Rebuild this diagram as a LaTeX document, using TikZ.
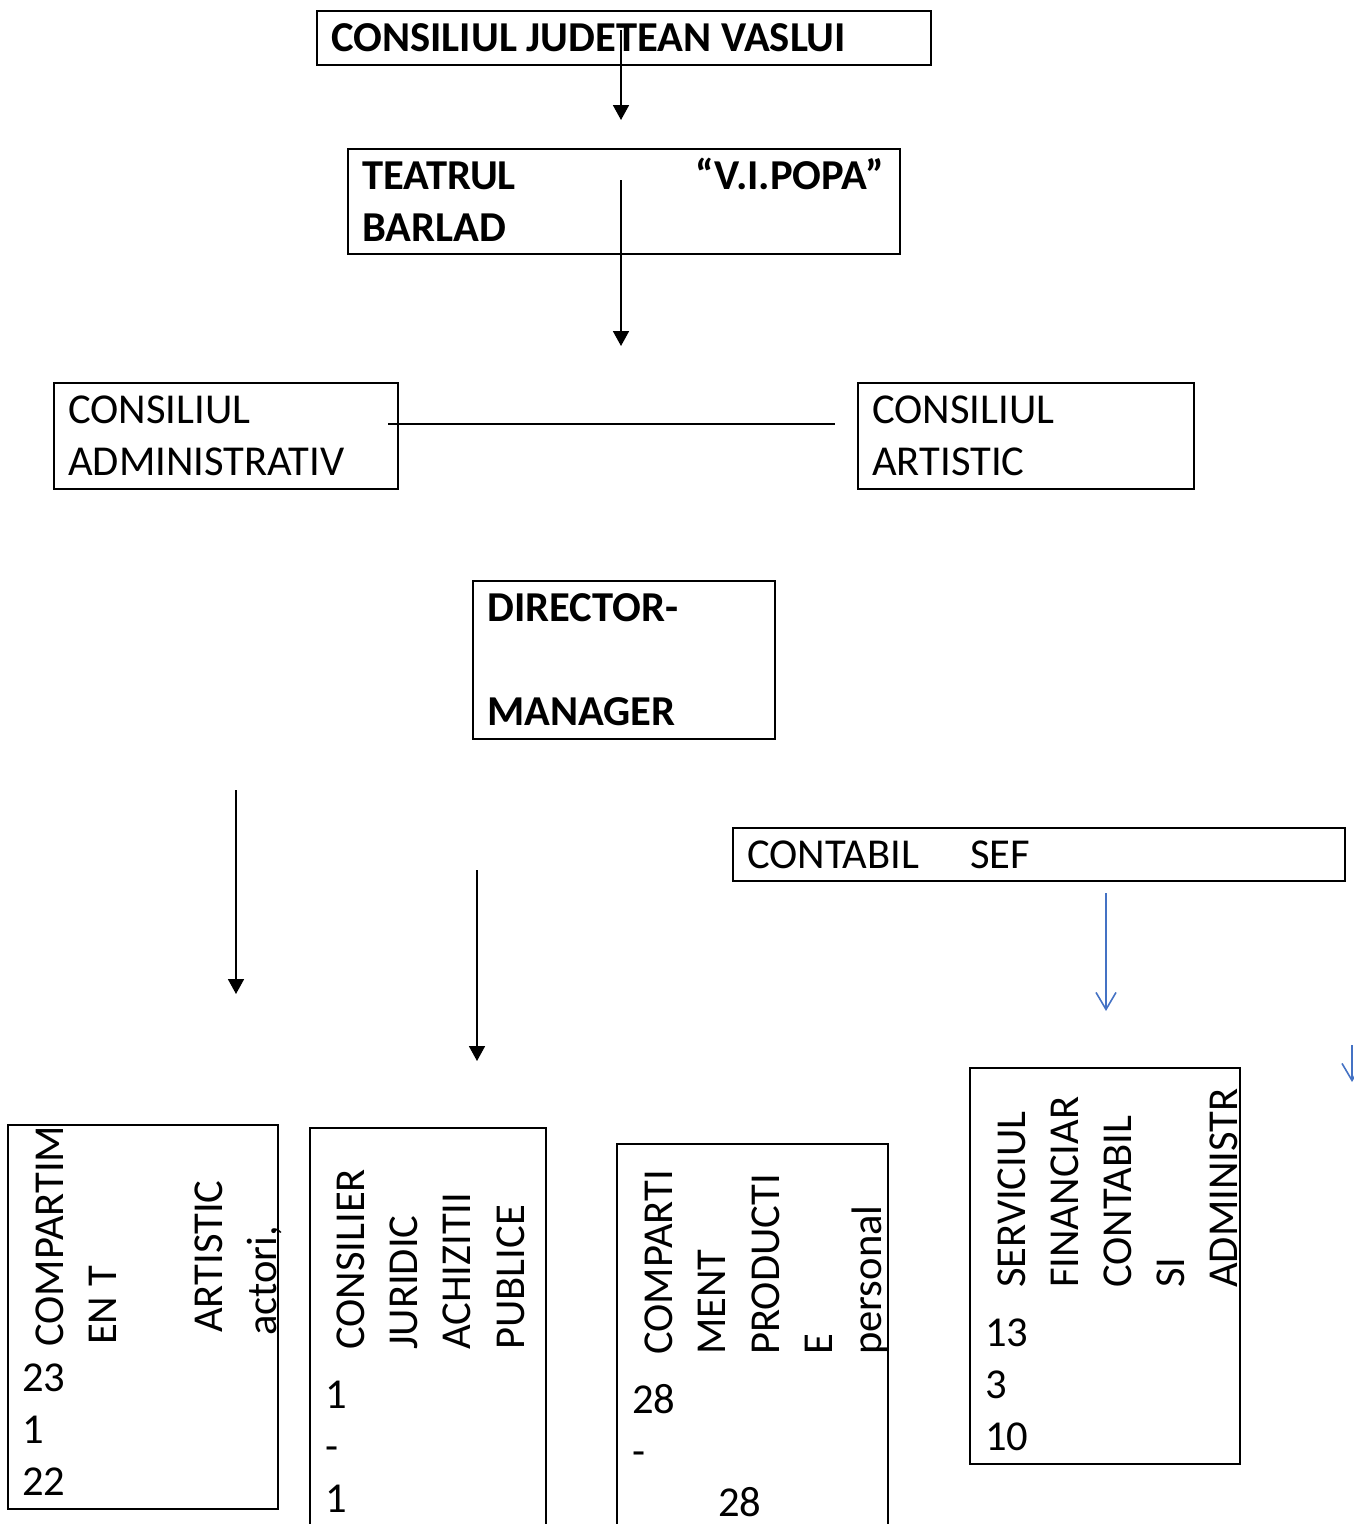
\documentclass[tikz,border=0pt]{standalone}
\usepackage{fontspec}
\setmainfont{Carlito}
\usetikzlibrary{arrows.meta}
\definecolor{wordblue}{RGB}{68,114,196}
\begin{document}
\begin{tikzpicture}[x=1pt,y=-1pt,
 box/.style={draw, line width=1.8pt, inner sep=0pt, anchor=north west},
 txt/.style={inner sep=0pt, anchor=base west, font=\fontsize{42.6}{52}\selectfont},
 btxt/.style={inner sep=0pt, anchor=base west, font=\fontsize{42.6}{52}\selectfont\bfseries},
 vtxt/.style={txt, rotate=90},
 conn/.style={line width=1.8pt, -{Triangle[length=15pt,width=16pt]}},
 bconn/.style={line width=1.6pt, wordblue, -{Straight Barb[length=17pt,width=20pt,line width=1.6pt]}},
]
\useasboundingbox (0,0) rectangle (1354,1524);

% boxes
\node[box, minimum width=614pt, minimum height=54pt] (cj) at (316,10) {};
\node[box, minimum width=552pt, minimum height=105pt] (teatru) at (347,148) {};
\node[box, minimum width=344pt, minimum height=106pt] (cadm) at (53,382) {};
\node[box, minimum width=336pt, minimum height=106pt] (cart) at (857,382) {};
\node[box, minimum width=302pt, minimum height=158pt] (dir) at (472,580) {};
\node[box, minimum width=612pt, minimum height=53pt] (csef) at (732,827) {};
\node[box, minimum width=270pt, minimum height=384pt] (ba) at (7,1124) {};
\node[box, minimum width=236pt, minimum height=440pt] (bb) at (309,1127) {};
\node[box, minimum width=271pt, minimum height=420pt] (bc) at (616,1143) {};
\node[box, minimum width=270pt, minimum height=396pt] (bd) at (969,1067) {};

% texts
\node[btxt] (t1) at (331,51) {CONSILIUL JUDETEAN VASLUI};
\node[btxt] (t2) at (362,189) {TEATRUL};
\node[btxt, anchor=base east] (t3) at (884,189) {“V.I.POPA”};
\node[btxt] (t4) at (362,241) {BARLAD};
\node[txt] (t5) at (68,423) {CONSILIUL};
\node[txt] (t6) at (68,475) {ADMINISTRATIV};
\node[txt] (t7) at (872,423) {CONSILIUL};
\node[txt] (t8) at (872,475) {ARTISTIC};
\node[btxt] (t9) at (487,621) {DIRECTOR-};
\node[btxt] (t10) at (487,725) {MANAGER};
\node[txt] (t11) at (747,868) {CONTABIL};
\node[txt] (t12) at (970,868) {SEF};

% box a
\node[vtxt] (a1) at (63,1347) {COMPARTIM};
\node[vtxt] (a2) at (116,1345) {EN T};
\node[vtxt] (a3) at (222,1333) {ARTISTIC};
\node[vtxt] (a4) at (276,1336) {actori,};
\node[txt] (a5) at (22,1391) {23};
\node[txt] (a6) at (22,1443) {1};
\node[txt] (a7) at (22,1495) {22};

% box b
\node[vtxt] (b1) at (364,1350) {CONSILIER};
\node[vtxt] (b2) at (417,1350) {JURIDIC};
\node[vtxt] (b3) at (470,1350) {ACHIZITII};
\node[vtxt] (b4) at (524,1350) {PUBLICE};
\node[txt] (b5) at (325,1408) {1};
\node[txt] (b6) at (325,1460) {-};
\node[txt] (b7) at (325,1512) {1};

% box c
\node[vtxt] (c1) at (672,1355) {COMPARTI};
\node[vtxt] (c2) at (725,1355) {MENT};
\node[vtxt] (c3) at (779,1355) {PRODUCTI};
\node[vtxt] (c4) at (832,1355) {E};
\node[vtxt] (c5) at (881,1355) {personal};
\node[txt] (c6) at (632,1413) {28};
\node[txt] (c7) at (632,1465) {-};
\node[txt] (c8) at (718,1516) {28};

% box d
\node[vtxt] (d1) at (1025,1288) {SERVICIUL};
\node[vtxt] (d2) at (1078,1288) {FINANCIAR};
\node[vtxt] (d3) at (1131,1288) {CONTABIL};
\node[vtxt] (d4) at (1184,1288) {SI};
\node[vtxt] (d5) at (1237,1288) {ADMINISTR};
\node[txt] (d6) at (985,1346) {13};
\node[txt] (d7) at (985,1398) {3};
\node[txt] (d8) at (985,1450) {10};

% connector ends
\coordinate (p1s) at (621,30);   \coordinate (p1e) at (621,120);
\coordinate (p2s) at (621,180);  \coordinate (p2e) at (621,346);
\coordinate (hs) at (388,424);   \coordinate (he) at (835,424);
\coordinate (p3s) at (236,790);  \coordinate (p3e) at (236,994);
\coordinate (p4s) at (477,870);  \coordinate (p4e) at (477,1061);
\coordinate (q1s) at (1106,893); \coordinate (q1e) at (1106,1011);
\coordinate (q2s) at (1352,1045); \coordinate (q2e) at (1352,1082);

\draw[conn] (p1s) -- (p1e);
\draw[conn] (p2s) -- (p2e);
\draw[line width=1.8pt] (hs) -- (he);
\draw[conn] (p3s) -- (p3e);
\draw[conn] (p4s) -- (p4e);
\draw[bconn] (q1s) -- (q1e);
\draw[bconn] (q2s) -- (q2e);
\end{tikzpicture}
\end{document}
